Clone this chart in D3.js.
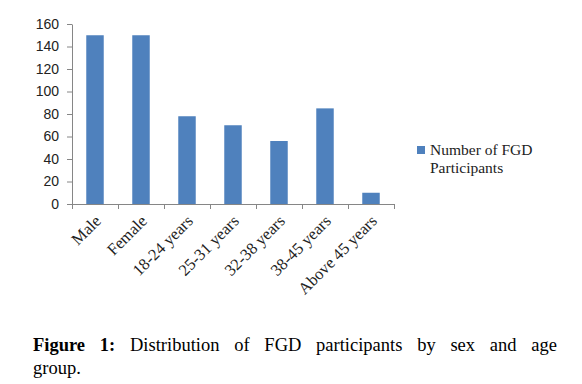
<!DOCTYPE html>
<html>
<head>
<meta charset="utf-8">
<script src="https://cdn.jsdelivr.net/npm/d3@7"></script>
<style>
  html, body { margin: 0; padding: 0; background: #fff; }
  svg { display: block; }
</style>
</head>
<body>
<svg id="chart" width="582" height="384"></svg>
<script>
const categories = ["Male", "Female", "18-24 years", "25-31 years", "32-38 years", "38-45 years", "Above 45 years"];
const values = [150, 150, 78, 70, 56, 85, 10];
const yTicks = [0, 20, 40, 60, 80, 100, 120, 140, 160];
const seriesName = ["Number of FGD", "Participants"];
const captionBold = ["Figure", "1:"];
const captionWords = ["Distribution", "of", "FGD", "participants", "by", "sex", "and", "age"];
const captionLine2 = "group.";

const svg = d3.select("#chart");
const barColor = "#4F81BD";
const axisColor = "#868686";

const x = d3.scaleBand().domain(categories).range([72, 394]).paddingInner(0.62).paddingOuter(0.31);
const y = d3.scaleLinear().domain([0, 160]).range([204, 24]);

// bars
svg.append("g").selectAll("rect").data(values).join("rect")
  .attr("x", (d, i) => x(categories[i]))
  .attr("y", d => y(d))
  .attr("width", x.bandwidth())
  .attr("height", d => y(0) - y(d))
  .attr("fill", barColor);

// y axis
const yAxis = svg.append("g").attr("transform", "translate(72,0)")
  .call(d3.axisLeft(y).tickValues(yTicks).tickSize(5).tickPadding(8).tickSizeOuter(0));
yAxis.select(".domain").attr("stroke", axisColor);
yAxis.selectAll(".tick line").attr("stroke", axisColor);
yAxis.selectAll(".tick text").attr("font-family", "Liberation Sans, Arial, sans-serif")
  .attr("font-size", 14).attr("fill", "#222");

// x axis line and separators
const xStart = 72, xEnd = 394;
svg.append("line").attr("x1", xStart).attr("x2", xEnd).attr("y1", 204.5).attr("y2", 204.5)
  .attr("stroke", axisColor);
const seps = d3.range(categories.length + 1).map(i => xStart + i * (xEnd - xStart) / categories.length);
svg.append("g").selectAll("line").data(seps).join("line")
  .attr("x1", d => Math.round(d) + 0.5).attr("x2", d => Math.round(d) + 0.5)
  .attr("y1", 204).attr("y2", 209).attr("stroke", axisColor);

// x labels
svg.append("g").selectAll("text").data(categories).join("text")
  .attr("transform", d => `translate(${x(d) + x.bandwidth() / 2 + 7},${222}) rotate(-45)`)
  .attr("text-anchor", "end")
  .attr("font-family", "Liberation Serif, Times New Roman, serif")
  .attr("font-size", 16.5)
  .attr("fill", "#222")
  .text(d => d);

// legend
svg.append("rect").attr("x", 417).attr("y", 146).attr("width", 8).attr("height", 8).attr("fill", barColor);
svg.append("g").selectAll("text").data(seriesName).join("text")
  .attr("x", 430).attr("y", (d, i) => 155 + i * 18)
  .attr("font-family", "Liberation Serif, Times New Roman, serif")
  .attr("font-size", 15.5).attr("fill", "#222")
  .text(d => d);

// caption (justified first line)
const capFont = "Liberation Serif, Times New Roman, serif";
const capSize = 18.5;
const words = captionBold.map(w => ({w, bold: true})).concat(captionWords.map(w => ({w, bold: false})));
const capG = svg.append("g");
const nodes = words.map(o => capG.append("text")
  .attr("y", 351)
  .attr("font-family", capFont).attr("font-size", capSize)
  .attr("font-weight", o.bold ? "bold" : "normal")
  .attr("fill", "#000").text(o.w));
const widths = nodes.map(n => n.node().getComputedTextLength());
const x0 = 33, x1 = 557;
const gap = (x1 - x0 - d3.sum(widths)) / (nodes.length - 1);
let cx = x0;
nodes.forEach((n, i) => { n.attr("x", cx); cx += widths[i] + gap; });
capG.append("text").attr("x", x0).attr("y", 374)
  .attr("font-family", capFont).attr("font-size", capSize).attr("fill", "#000").text(captionLine2);
</script>
</body>
</html>
